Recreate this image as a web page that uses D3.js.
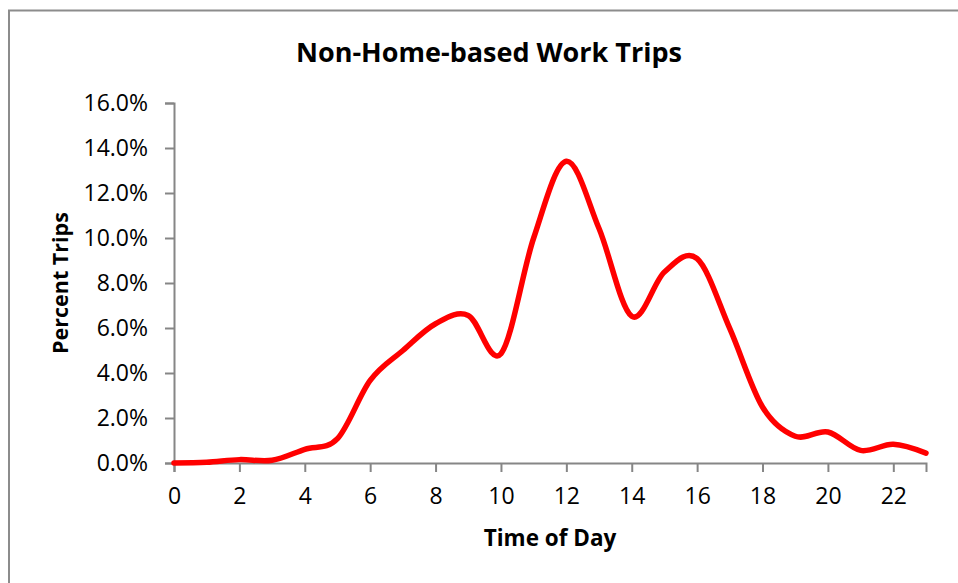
<!DOCTYPE html>
<html>
<head>
<meta charset="utf-8">
<script src="https://cdn.jsdelivr.net/npm/d3@7"></script>
<style>
  html, body { margin: 0; padding: 0; background: #fff; }
  svg { display: block; }
  text { font-family: "Open Sans", "Liberation Sans", sans-serif; fill: #000; }
</style>
</head>
<body>
<svg id="chart" width="958" height="583"></svg>
<script>
// Hour of day and share of non-home-based work trips (percent)
const hours = [0, 1, 2, 3, 4, 5, 6, 7, 8, 9, 10, 11, 12, 13, 14, 15, 16, 17, 18, 19, 20, 21, 22, 23];
const percentTrips = [0.0, 0.03, 0.15, 0.12, 0.61, 1.08, 3.67, 5.0, 6.19, 6.56, 4.86, 10.0,
                      13.41, 10.42, 6.52, 8.49, 9.08, 5.97, 2.49, 1.19, 1.38, 0.56, 0.83, 0.44];
const xTicks = [0, 2, 4, 6, 8, 10, 12, 14, 16, 18, 20, 22];
const yTicks = [0, 2, 4, 6, 8, 10, 12, 14, 16];

const svg = d3.select("#chart");
const plot = { left: 174, right: 926, top: 103, bottom: 463 };
const axisColor = "#868686";

// Outer chart frame
svg.append("rect")
  .attr("x", 9).attr("y", 10.5)
  .attr("width", 1000).attr("height", 1000)
  .attr("fill", "none")
  .attr("stroke", "#8c8c8c")
  .attr("stroke-width", 2);

const x = d3.scaleLinear().domain([0, 23]).range([plot.left, plot.right]);
const y = d3.scaleLinear().domain([0, 16]).range([plot.bottom, plot.top]);

// Y axis
const yAxis = svg.append("g")
  .attr("transform", `translate(${plot.left},0)`)
  .call(d3.axisLeft(y).tickValues(yTicks).tickSize(9).tickPadding(17)
    .tickFormat(d => d.toFixed(1) + "%"));

// X axis
const xAxis = svg.append("g")
  .attr("transform", `translate(0,${plot.bottom})`)
  .call(d3.axisBottom(x).tickValues(xTicks).tickSize(9).tickPadding(16)
    .tickFormat(d3.format("d")));

[yAxis, xAxis].forEach(g => {
  g.select(".domain").attr("stroke", axisColor).attr("stroke-width", 2);
  g.selectAll(".tick line").attr("stroke", axisColor).attr("stroke-width", 2);
  g.selectAll(".tick text").attr("font-size", 23).attr("fill", "#000")
    .style("font-family", "'Open Sans', sans-serif");
});

// Smoothed series line
const line = d3.line()
  .x((d, i) => x(hours[i]))
  .y(d => y(d))
  .curve(d3.curveCatmullRom.alpha(0));

svg.append("path")
  .datum(percentTrips)
  .attr("d", line)
  .attr("fill", "none")
  .attr("stroke", "#ff0000")
  .attr("stroke-width", 5.5)
  .attr("stroke-linecap", "round")
  .attr("stroke-linejoin", "round");

// Titles
svg.append("text")
  .attr("x", 489).attr("y", 62)
  .attr("text-anchor", "middle")
  .attr("font-size", 27).attr("font-weight", "bold")
  .text("Non-Home-based Work Trips");

svg.append("text")
  .attr("x", 550).attr("y", 546)
  .attr("text-anchor", "middle")
  .attr("font-size", 22.5).attr("font-weight", "bold")
  .text("Time of Day");

svg.append("text")
  .attr("transform", "translate(68,283) rotate(-90)")
  .attr("text-anchor", "middle")
  .attr("font-size", 21.5).attr("font-weight", "bold")
  .text("Percent Trips");
</script>
</body>
</html>
